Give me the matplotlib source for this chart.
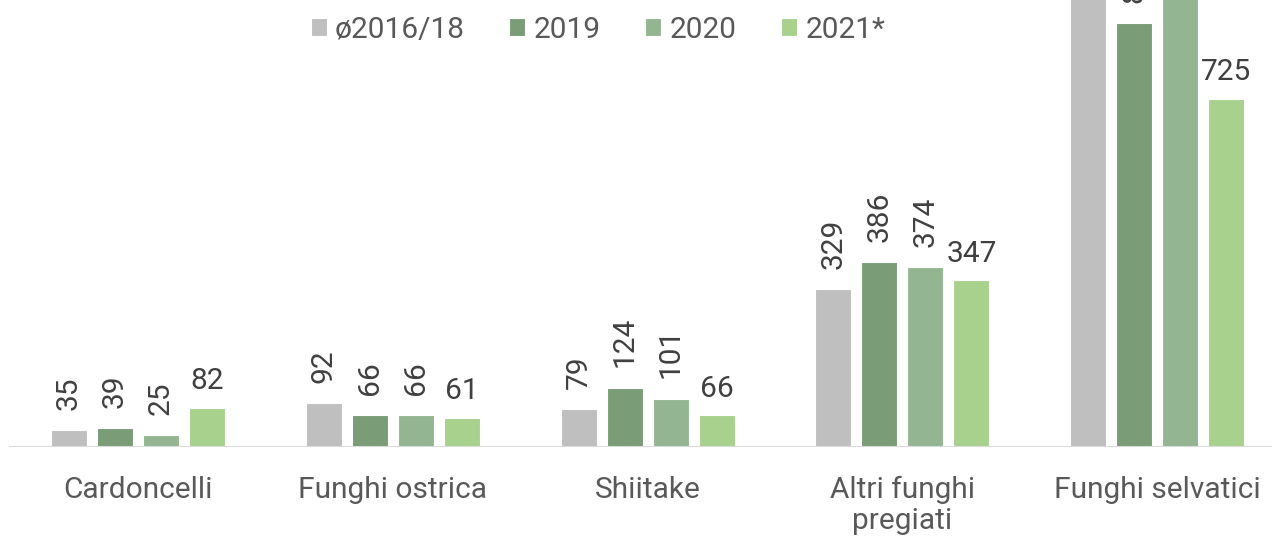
import matplotlib
matplotlib.use("Agg")
import matplotlib.pyplot as plt
import numpy as np

categories = ["Cardoncelli", "Funghi ostrica", "Shiitake", "Altri funghi\npregiati", "Funghi selvatici"]
series_names = ["ø2016/18", "2019", "2020", "2021*"]
v_2016_18 = [35, 92, 79, 329, 1000]
v_2019 = [39, 66, 124, 386, 883]
v_2020 = [25, 66, 101, 374, 1030]
v_2021 = [82, 61, 66, 347, 725]
colors = ["#BFBFBF", "#7A9C77", "#94B592", "#A9D18E"]

plt.rcParams['font.family'] = ['Roboto', 'DejaVu Sans']
FS = 21.5

fig = plt.figure(figsize=(12.72, 5.38), dpi=100)
ax = fig.add_axes([0, 0.169, 1, 0.831])

x = np.arange(len(categories))
width = 0.1413
step = 0.1806
all_series = [v_2016_18, v_2019, v_2020, v_2021]
for i, (vals, col, name) in enumerate(zip(all_series, colors, series_names)):
    pos = x + (i - 1.5) * step
    ax.bar(pos, vals, width=width, color=col, edgecolor='white', linewidth=0.8, label=name, zorder=2)
    for p, v in zip(pos, vals):
        if i < 3:
            ax.annotate(str(v), (p, v), xytext=(0, 14.5), textcoords='offset points',
                        ha='center', va='bottom', rotation=90, fontsize=FS, color='#404040')
        else:
            ax.annotate(str(v), (p, v), xytext=(0, 9), textcoords='offset points',
                        ha='center', va='bottom', fontsize=FS, color='#404040')

ax.set_xlim(-0.542, 4.451)
ax.set_ylim(0, 931)
for s in ['top', 'right', 'left', 'bottom']:
    ax.spines[s].set_visible(False)
ax.axhline(0, xmin=10/1272, xmax=1, color='#D9D9D9', linewidth=1.5, zorder=3)
ax.set_yticks([])
ax.set_xticks(x)
ax.set_xticklabels(categories, fontsize=FS, color='#595959', linespacing=1.12)
ax.tick_params(axis='x', length=0, pad=21)

leg = fig.legend(loc='center', bbox_to_anchor=(0.47, 0.945), ncol=4, frameon=False,
                 fontsize=FS, handlelength=0.535, handleheight=0.535, handletextpad=0.27,
                 columnspacing=1.5, labelcolor='#595959', borderaxespad=0, borderpad=0)

fig.savefig("out.png", dpi=100)
